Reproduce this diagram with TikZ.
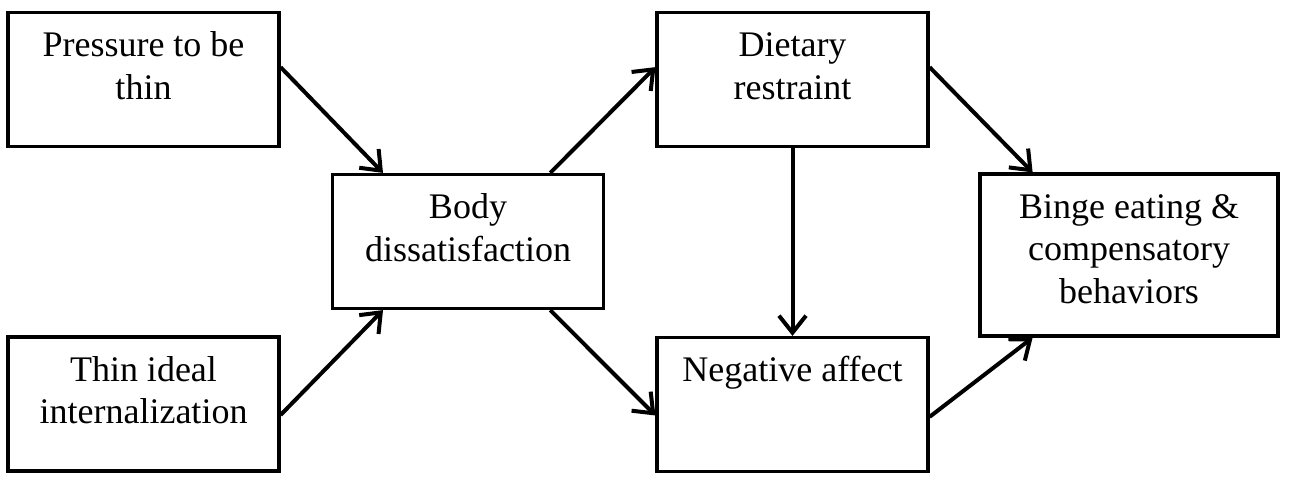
\documentclass[tikz,border=0pt]{standalone}
\usepackage{fontspec}
\setmainfont{Liberation Serif}
\usepackage{tikz}
\usetikzlibrary{arrows.meta,calc}

\begin{document}
\begin{tikzpicture}[x=1pt, y=-1pt,
  every node/.style={font=\fontsize{36}{42.5}\selectfont},
  stagebox/.style={rectangle, draw, line width=3.2pt, minimum width=271pt,
    inner xsep=0pt, inner ysep=0pt, align=center, text height=44pt, text depth=90pt},
  twolines/.style={text height=86.5pt, text depth=47.5pt},
  outcomebox/.style={stagebox, minimum width=298pt, text height=129pt, text depth=33pt},
  path/.style={line width=4pt, -{Straight Barb[length=17pt, width=27pt, line width=4pt]}}
]
\useasboundingbox (0,0) rectangle (1291,480);

%========== risk factors ==========
\node[stagebox, twolines] (pres) at (143.5, 79.5) {Pressure to be\\thin};
\node[stagebox, twolines] (thin) at (143.5, 404) {Thin ideal\\internalization};

%========== mediators ==========
\node[stagebox, twolines] (body) at (468, 241.5) {Body\\dissatisfaction};
\node[stagebox, twolines] (diet) at (792.5, 79.5) {Dietary\\restraint};
\node[stagebox] (neg)  at (792.5, 404.5) {Negative affect};

%========== outcome ==========
\node[outcomebox] (binge) at (1129, 255) {Binge eating \&\\compensatory\\behaviors};

%========== paths ==========
\draw[path] ($(pres.north east)!0.41!(pres.south east)$) -- ($(body.north west)!0.19!(body.north east)$);
\draw[path] ($(thin.north east)!0.58!(thin.south east)$) -- ($(body.south west)!0.19!(body.south east)$);
\draw[path] ($(body.north west)!0.8!(body.north east)$) -- ($(diet.north west)!0.41!(diet.south west)$);
\draw[path] ($(body.south west)!0.8!(body.south east)$) -- ($(neg.north west)!0.58!(neg.south west)$);
\draw[path] (diet.south) -- (neg.north);
\draw[path] ($(diet.north east)!0.41!(diet.south east)$) -- ($(binge.north west)!0.18!(binge.north east)$);
\draw[path] ($(neg.north east)!0.59!(neg.south east)$) -- ($(binge.south west)!0.18!(binge.south east)$);

\end{tikzpicture}
\end{document}
